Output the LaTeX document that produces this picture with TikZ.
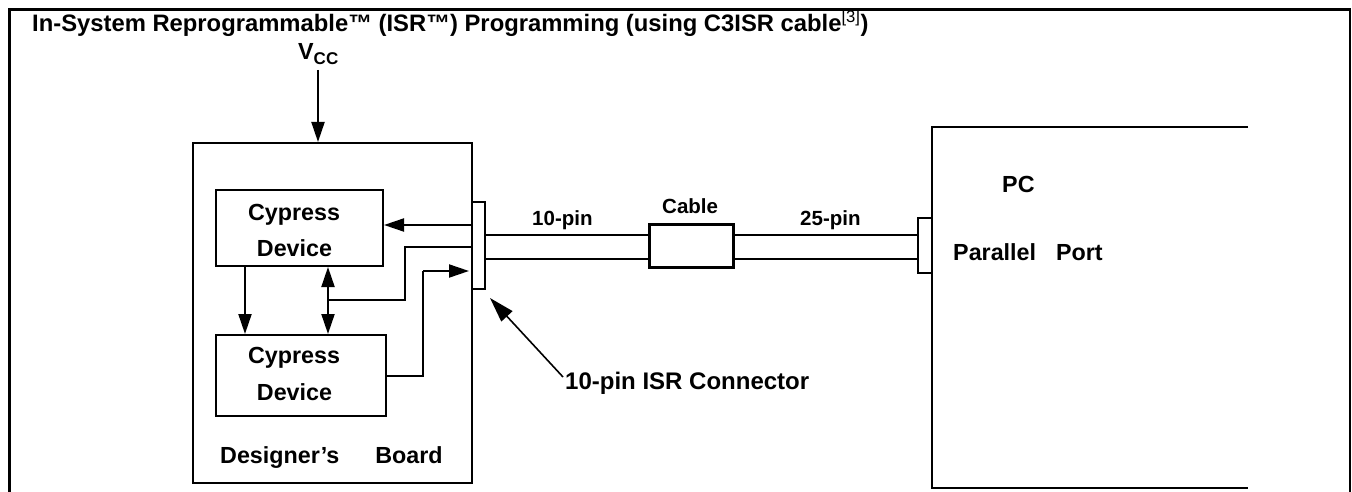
\documentclass[tikz,border=0pt]{standalone}
\usepackage{fontspec}
\setmainfont{Liberation Sans}
\usetikzlibrary{arrows.meta}
\begin{document}
\begin{tikzpicture}[x=1pt,y=-1pt,
  every node/.style={inner sep=0pt},
  ln/.style={line width=2pt},
  tip/.style={-{Triangle[length=20pt,width=13pt]}},
  arr/.style={ln,tip},
  box/.style={draw, line width=2pt, inner sep=0pt},
  tbody/.style={font=\fontsize{23.3}{28}\selectfont\bfseries},
  tsmall/.style={font=\fontsize{20.5}{24}\selectfont\bfseries},
  ttitle/.style={font=\fontsize{23.8}{28}\selectfont\bfseries},
  tisr/.style={font=\fontsize{24}{28}\selectfont\bfseries},
]
\useasboundingbox (0,0) rectangle (1352,492);
% outer frame (open at the bottom)
\draw[line width=2.5pt] (9.5,492) -- (9.5,9.5) -- (1350,9.5) -- (1350,492);
% title
\node[ttitle, anchor=base west] (title) at (32,32) {In-System Reprogrammable™ (ISR™) Programming (using C3ISR cable\textsuperscript{\mdseries[3]})};
% Vcc
\node[tbody, anchor=base west] (vcc) at (298,60) {V\raisebox{-5pt}{\fontsize{17}{17}\selectfont CC}};
\coordinate (vcctail) at (318,70);
% board and devices
\node[box, minimum width=279pt, minimum height=340pt] (board) at (332.5,313) {};
\node[box, minimum width=167pt, minimum height=76pt] (dev1) at (299.5,228) {};
\node[box, minimum width=170pt, minimum height=81pt] (dev2) at (301,375.5) {};
\node[tbody, anchor=base] (d1a) at (294,220) {Cypress};
\node[tbody, anchor=base] (d1b) at (294.5,256) {Device};
\node[tbody, anchor=base] (d2a) at (294,363) {Cypress};
\node[tbody, anchor=base] (d2b) at (294.5,400) {Device};
\node[tbody, anchor=base west] (boardlbl) at (220,463) {Designer’s\hspace{36pt}Board};
% ISR connector
\node[box, minimum width=13pt, minimum height=87pt] (conn) at (478.5,245.5) {};
% cable
\node[draw, line width=3pt, minimum width=84pt, minimum height=43pt] (cable) at (691,245.5) {};
% PC
\coordinate (pcTR) at (1248,127);
\coordinate (pcTL) at (932,127);
\coordinate (pcBL) at (932,488);
\coordinate (pcBR) at (1248,488);
\draw[ln] (pcTR) -- (pcTL) -- (pcBL) -- (pcBR);
\node[box, minimum width=14pt, minimum height=55pt] (port) at (925,245.5) {};
\node[tbody, anchor=base west] (pc) at (1002,193) {PC};
\node[tbody, anchor=base west] (pport) at (953,260) {Parallel\hspace{20pt}Port};
% labels on cable
\node[tsmall, anchor=base west] (l10) at (532,225) {10-pin};
\node[tsmall, anchor=base west] (lcab) at (662,213) {Cable};
\node[tsmall, anchor=base west] (l25) at (800,225) {25-pin};
% helper coordinates
\coordinate (x245) at (245,0);
\coordinate (x328) at (328,0);
\coordinate (y225) at (0,225);
\coordinate (y247) at (0,247);
\coordinate (y271) at (0,271);
\coordinate (y235) at (0,235);
\coordinate (y259) at (0,259);
\coordinate (b1) at (405,247);
\coordinate (b2) at (405,300);
\coordinate (b3) at (328,300);
\coordinate (c1) at (423,375.5);
\coordinate (c2) at (423,271);
% connectors
\draw[arr] (vcctail) -- (vcctail |- board.north);
\draw[arr] (conn.west |- y225) -- (dev1.east |- y225);
\draw[ln] (conn.west |- y247) -- (b1) -- (b2) -- (b3);
\draw[ln, {Triangle[length=20pt,width=13pt]}-{Triangle[length=20pt,width=13pt]}] (dev1.south -| x328) -- (dev2.north -| x328);
\draw[arr] (dev1.south -| x245) -- (dev2.north -| x245);
\draw[ln] (dev2.east) -- (c1) -- (c2);
\draw[arr] (c2) -- ([xshift=-2pt]conn.west |- y271);
% cable wires
\draw[ln] (conn.east |- y235) -- (cable.west |- y235);
\draw[ln] (conn.east |- y259) -- (cable.west |- y259);
\draw[ln] (cable.east |- y235) -- (port.west |- y235);
\draw[ln] (cable.east |- y259) -- (port.west |- y259);
% ISR connector label
\node[tisr, anchor=base west] (isr) at (565,389) {10-pin ISR Connector};
\coordinate (isrtail) at (563,377);
\coordinate (isrtip) at (490,298);
\draw[line width=1.6pt, -{Triangle[length=25pt,width=15pt]}] (isrtail) -- (isrtip);
\end{tikzpicture}
\end{document}
